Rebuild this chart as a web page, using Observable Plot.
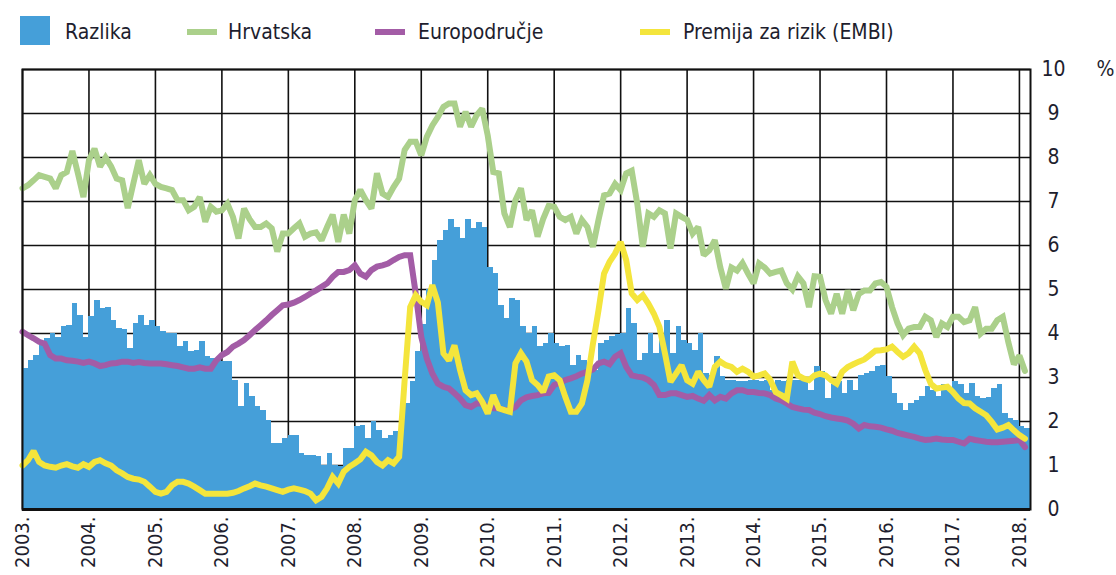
<!DOCTYPE html>
<html>
<head>
<meta charset="utf-8">
<script src="https://cdn.jsdelivr.net/npm/d3@7"></script>
<script src="https://cdn.jsdelivr.net/npm/@observablehq/plot@0.6"></script>
<style>
  html, body { margin: 0; padding: 0; background: #fff; }
  #wrap { width: 1116px; height: 575px; position: relative; overflow: hidden;
          font-family: "DejaVu Sans Condensed", "Liberation Sans Narrow", sans-serif; color: #1e1e2e; }
  #legend { position: relative; width: 1116px; height: 55px; }
  .sw { position: absolute; }
  .lt { position: absolute; top: 19px; font-size: 21px; line-height: 26px; white-space: nowrap; }
  #chart svg { display: block; }
</style>
</head>
<body>
<div id="wrap">
  <div id="legend"></div>
  <div id="chart"></div>
</div>
<script>
// ---- data (monthly, Jan 2003 – Feb 2018), % ----
const startYear = 2003;
const years = [2003,2004,2005,2006,2007,2008,2009,2010,2011,2012,2013,2014,2015,2016,2017,2018];
const yTicks = [0,1,2,3,4,5,6,7,8,9,10];

const seriesNames = ["Razlika", "Hrvatska", "Europodručje", "Premija za rizik (EMBI)"];
const seriesColors = ["#459fd9", "#abd08b", "#a35ca6", "#f4e53c"];

// Hrvatska
const hrvatska = [
  7.30,7.37,7.48,7.60,7.56,7.52,7.30,7.60,7.67,8.15,7.64,7.10,
  7.94,8.20,7.79,8.00,7.80,7.52,7.48,6.85,7.40,7.94,7.40,7.60,
  7.40,7.33,7.30,7.26,7.03,7.03,6.80,6.88,7.10,6.54,6.88,6.77,
  6.80,6.95,6.65,6.16,6.84,6.60,6.42,6.42,6.50,6.39,5.86,6.27,
  6.27,6.39,6.50,6.20,6.27,6.30,6.12,6.42,6.70,6.08,6.70,6.27,
  7.03,7.26,7.03,6.84,7.64,7.18,7.10,7.33,7.52,8.17,8.36,8.36,
  8.05,8.47,8.73,8.92,9.15,9.23,9.23,8.70,9.04,8.70,8.96,9.11,
  8.50,7.67,7.64,6.73,6.42,7.03,7.30,6.58,6.80,6.20,6.60,6.90,
  6.88,6.65,6.58,6.65,6.27,6.58,6.42,5.97,6.58,7.14,7.18,7.40,
  7.26,7.64,7.70,6.95,5.97,6.73,6.65,6.80,6.73,5.93,6.73,6.65,
  6.58,6.27,6.42,5.78,5.89,6.12,5.50,5.02,5.50,5.43,5.60,5.36,
  5.14,5.59,5.50,5.36,5.40,5.43,5.14,5.00,5.30,5.14,4.60,5.30,
  5.29,4.76,4.45,4.90,4.45,4.98,4.53,4.90,4.98,4.98,5.14,5.17,
  5.06,4.60,4.23,3.96,4.11,4.15,4.15,4.38,4.30,3.92,4.23,4.15,
  4.38,4.38,4.26,4.30,4.60,4.00,4.11,4.11,4.30,4.38,3.80,3.30,
  3.50,3.15
];

// Europodručje
const europodrucje = [
  4.04,3.96,3.89,3.81,3.77,3.51,3.43,3.43,3.39,3.38,3.36,3.33,
  3.36,3.32,3.26,3.28,3.32,3.33,3.36,3.36,3.33,3.35,3.33,3.32,
  3.32,3.32,3.30,3.28,3.26,3.23,3.20,3.20,3.23,3.20,3.20,3.39,
  3.51,3.58,3.70,3.77,3.85,3.96,4.08,4.19,4.30,4.42,4.53,4.64,
  4.66,4.70,4.76,4.83,4.91,4.98,5.06,5.14,5.29,5.40,5.40,5.44,
  5.55,5.36,5.29,5.44,5.52,5.55,5.59,5.67,5.74,5.78,5.78,4.91,
  3.92,3.43,3.09,2.86,2.79,2.75,2.64,2.52,2.37,2.33,2.41,2.41,
  2.33,2.30,2.30,2.26,2.26,2.33,2.48,2.55,2.58,2.60,2.64,2.65,
  2.83,2.88,2.94,2.98,3.03,3.09,3.13,3.18,3.32,3.36,3.30,3.47,
  3.55,3.24,3.05,3.02,3.00,2.94,2.83,2.60,2.60,2.64,2.64,2.60,
  2.56,2.58,2.52,2.47,2.60,2.48,2.56,2.52,2.64,2.71,2.71,2.67,
  2.67,2.65,2.64,2.60,2.52,2.48,2.41,2.33,2.30,2.27,2.26,2.20,
  2.17,2.12,2.09,2.07,2.05,2.02,1.95,1.84,1.92,1.89,1.88,1.86,
  1.82,1.79,1.74,1.71,1.68,1.65,1.61,1.58,1.59,1.61,1.59,1.58,
  1.58,1.54,1.50,1.61,1.58,1.56,1.54,1.53,1.53,1.54,1.55,1.56,
  1.58,1.42
];

// Premija za rizik (EMBI)
const embi = [
  1.00,1.12,1.33,1.08,1.00,0.97,0.95,1.00,1.03,0.98,0.95,1.03,
  0.97,1.08,1.12,1.05,1.00,0.89,0.82,0.74,0.70,0.68,0.63,0.52,
  0.40,0.36,0.40,0.55,0.63,0.63,0.59,0.52,0.44,0.36,0.36,0.36,
  0.36,0.36,0.38,0.42,0.48,0.53,0.59,0.55,0.52,0.48,0.44,0.40,
  0.45,0.48,0.45,0.42,0.36,0.21,0.29,0.48,0.74,0.59,0.86,0.97,
  1.05,1.14,1.31,1.23,1.08,1.00,1.12,1.05,1.20,2.94,4.60,4.87,
  4.72,4.64,5.10,4.70,3.55,3.39,3.73,3.17,2.71,2.60,2.64,2.45,
  2.18,2.60,2.30,2.26,2.22,3.32,3.55,3.36,2.94,2.83,2.67,3.02,
  3.05,2.94,2.56,2.22,2.22,2.41,2.94,3.77,4.53,5.36,5.63,5.82,
  6.08,5.67,4.91,4.76,4.87,4.68,4.45,4.15,3.55,2.90,3.09,3.28,
  2.94,2.86,3.13,2.94,2.79,3.24,3.36,3.28,3.24,3.13,3.20,3.13,
  3.02,3.05,3.09,2.95,2.67,2.60,2.52,3.36,3.05,2.98,2.94,3.05,
  3.09,3.05,2.94,2.86,3.13,3.24,3.30,3.36,3.41,3.51,3.61,3.62,
  3.64,3.70,3.58,3.47,3.55,3.70,3.55,3.17,2.86,2.75,2.77,2.79,
  2.67,2.52,2.42,2.41,2.30,2.22,2.14,1.99,1.82,1.86,1.92,1.80,
  1.69,1.61
];

// Razlika (bars)
const razlika = [
  3.20,3.39,3.50,3.73,3.89,4.00,3.92,4.15,4.19,4.68,4.42,3.92,
  4.38,4.76,4.57,4.60,4.30,4.11,4.08,3.66,4.23,4.42,4.19,4.30,
  4.15,4.04,4.00,4.00,3.70,3.81,3.58,3.62,3.81,3.47,3.43,3.39,
  3.36,3.36,2.94,2.33,2.86,2.56,2.33,2.26,2.03,1.50,1.50,1.61,
  1.69,1.69,1.27,1.23,1.23,1.20,1.00,1.27,1.00,0.97,1.39,1.39,
  1.88,1.92,1.61,2.00,1.80,1.61,1.69,1.77,1.88,2.40,2.90,3.60,
  4.20,5.00,5.67,6.12,6.35,6.58,6.42,6.16,6.58,6.39,6.52,6.40,
  5.50,5.36,4.64,4.34,4.80,4.76,4.15,4.00,4.15,3.70,3.77,4.00,
  3.77,3.70,3.73,3.28,3.50,3.39,3.17,3.17,3.77,3.85,3.94,3.98,
  4.00,4.57,4.23,3.39,3.55,4.00,3.55,3.92,4.30,3.55,4.15,3.85,
  3.77,3.62,4.00,3.09,3.05,3.47,3.02,2.94,2.94,2.92,2.90,2.94,
  2.94,2.92,2.94,2.71,2.94,2.92,2.94,2.94,2.94,2.94,2.71,3.24,
  3.13,2.52,2.83,2.90,2.64,2.94,2.71,3.05,3.09,3.13,3.26,3.28,
  3.02,2.64,2.41,2.26,2.41,2.48,2.56,2.79,2.71,2.56,2.83,2.77,
  2.90,2.83,2.64,2.86,2.56,2.52,2.55,2.75,2.83,2.18,2.07,2.03,
  1.88,1.84
];

// ---- legend (HTML, above the SVG) ----
const legend = document.getElementById("legend");
const legendItems = [
  {name: seriesNames[0], color: seriesColors[0], sw: [20, 16, 30, 29], tx: 65},
  {name: seriesNames[1], color: seriesColors[1], sw: [187, 29, 30, 6], tx: 228},
  {name: seriesNames[2], color: seriesColors[2], sw: [375, 29, 30, 6], tx: 418},
  {name: seriesNames[3], color: seriesColors[3], sw: [640, 29, 30, 6], tx: 683}
];
for (const it of legendItems) {
  const s = document.createElement("div");
  s.className = "sw";
  s.style.left = it.sw[0] + "px"; s.style.top = it.sw[1] + "px";
  s.style.width = it.sw[2] + "px"; s.style.height = it.sw[3] + "px";
  s.style.background = it.color;
  legend.appendChild(s);
  const t = document.createElement("div");
  t.className = "lt";
  t.style.left = it.tx + "px";
  t.textContent = it.name;
  legend.appendChild(t);
}

// ---- chart ----
const tm = i => startYear + i / 12;
const bars = razlika.map((v, i) => ({x1: tm(i), x2: tm(i + 1), v}));
const lineOf = arr => arr.map((v, i) => ({x: tm(i), v}));
const font = "'DejaVu Sans Condensed', 'Liberation Sans Narrow', sans-serif";

const chart = Plot.plot({
  width: 1116,
  height: 520,
  marginTop: 14,
  marginRight: 86,
  marginBottom: 66,
  marginLeft: 22,
  style: {fontFamily: font, color: "#1e1e2e", background: "#fff", overflow: "visible"},
  x: {domain: [2003, 2018 + 2 / 12]},
  y: {domain: [0, 10]},
  marks: [
    Plot.gridX(years, {stroke: "#111", strokeOpacity: 1, strokeWidth: 1.6}),
    Plot.gridY(yTicks, {stroke: "#111", strokeOpacity: 1, strokeWidth: 1.6}),
    Plot.rectY(bars, {x1: "x1", x2: "x2", y: "v", fill: seriesColors[0], inset: 0, shapeRendering: "crispEdges"}),
    Plot.line(lineOf(hrvatska), {x: "x", y: "v", stroke: seriesColors[1], strokeWidth: 6, strokeLinejoin: "miter", strokeMiterlimit: 2}),
    Plot.line(lineOf(europodrucje), {x: "x", y: "v", stroke: seriesColors[2], strokeWidth: 6, strokeLinejoin: "miter", strokeMiterlimit: 2}),
    Plot.line(lineOf(embi), {x: "x", y: "v", stroke: seriesColors[3], strokeWidth: 6, strokeLinejoin: "miter", strokeMiterlimit: 2}),
    Plot.frame({stroke: "#111", strokeWidth: 2}),
    Plot.ruleY([0], {stroke: "#111", strokeWidth: 3}),
    Plot.axisX(years, {tickSize: 0, tickPadding: 7, tickRotate: -90, tickFormat: d => d + ".", fontSize: 20, label: null}),
    Plot.axisY(yTicks, {anchor: "right", tickSize: 0, tickPadding: 23, textAnchor: "middle", fontSize: 21, label: null}),
    Plot.text(["%"], {frameAnchor: "top-right", dx: 75, text: d => d, fontSize: 21, textAnchor: "middle", lineAnchor: "middle", fill: "#1e1e2e"})
  ]
});
document.getElementById("chart").appendChild(chart);
</script>
</body>
</html>
